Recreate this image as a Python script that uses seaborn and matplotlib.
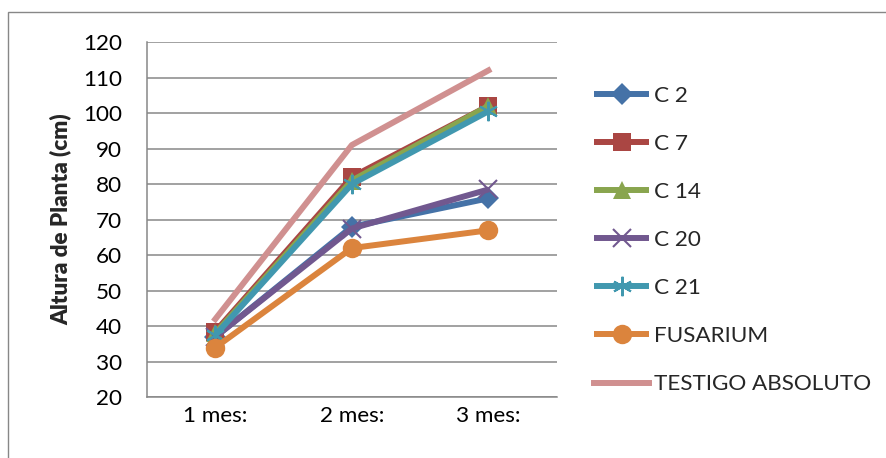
import matplotlib
matplotlib.use("Agg")
import matplotlib.pyplot as plt
import matplotlib.patches as patches
import numpy as np
import pandas as pd
import seaborn as sns

# Data, ..............................................................
months = ["1 mes:", "2 mes:", "3 mes:"]
c2 = [37.0, 68.0, 76.0]
c7 = [38.5, 82.0, 102.0]
c14 = [38.0, 81.0, 102.0]
c20 = [37.0, 67.5, 78.5]
c21 = [37.5, 80.0, 100.5]
fusarium = [34.0, 62.0, 67.0]
testigo = [42.0, 91.0, 112.0]

series_names = ["C 2", "C 7", "C 14", "C 20", "C 21", "FUSARIUM", "TESTIGO ABSOLUTO"]
series_values = [c2, c7, c14, c20, c21, fusarium, testigo]

# styles, (Excel 2007 like palette)
colors = ["#4572A7", "#AA4643", "#89A54E", "#71588F", "#4198AF", "#DB843D", "#D09090"]
markers = ["D", "s", "^", "x", (6, 2, 0), "o", None]
msizes = [11, 13, 13, 13, 14, 14, 0]

FS = 16.2

sns.set_style("white")
plt.rcParams["font.family"] = ["Lato", "DejaVu Sans"]
plt.rcParams["font.size"] = FS

# Figure, ............................................................
fig = plt.figure(figsize=(8.87, 4.58), dpi=100, facecolor="white")
ax = fig.add_axes([147 / 887, 1 - 397.3 / 458, (556.7 - 147) / 887, (397.3 - 42) / 458])

handles = []
for name, vals, col, mk, ms in zip(series_names, series_values, colors, markers, msizes):
    df = pd.DataFrame({"mes": months, "altura": vals})
    sns.lineplot(
        data=df, x="mes", y="altura", ax=ax,
        color=col, linewidth=4.3, sort=False,
        marker=mk, markersize=ms, legend=False,
    )
    line = ax.get_lines()[-1]
    line.set_markeredgecolor(col)
    line.set_markerfacecolor(col)
    line.set_markeredgewidth(1.5 if mk in ("x", (6, 2, 0)) else 0)
    line.set_solid_capstyle("projecting" if mk is None else "butt")
    line.set_label(name)
    handles.append(line)

# Axes aesthetics, ...................................................
ax.set_ylim(20, 120)
ax.set_yticks(np.arange(20, 121, 10))
ax.set_xlim(-0.5, 2.5)
ax.grid(axis="y", color="#878787", linewidth=1.1)
ax.grid(axis="x", visible=False)
ax.set_axisbelow(True)
for s in ["top", "right"]:
    ax.spines[s].set_visible(False)
for s in ["left", "bottom"]:
    ax.spines[s].set_color("#878787")
    ax.spines[s].set_linewidth(1.1)
ax.tick_params(axis="y", length=0, pad=18, labelsize=FS, colors="black")
ax.tick_params(axis="x", length=0, pad=6, labelsize=FS, colors="black")
ax.set_xlabel("")
ax.set_ylabel("Altura de Planta (cm)", fontsize=FS, fontweight="heavy", labelpad=8)

# legend, ...........................................................
fig.legend(
    handles=handles, labels=series_names,
    loc="center left", bbox_to_anchor=(594 / 887, 1 - 240 / 458),
    frameon=False, borderpad=0, borderaxespad=0,
    handlelength=2.45, handletextpad=0.22, labelspacing=1.25,
    fontsize=FS,
)

# outer chart border,
fig.patches.append(patches.Rectangle(
    (8 / 887, -0.05), 1.2, 1 - 12 / 458 + 0.05,
    transform=fig.transFigure, fill=False, edgecolor="#878787", linewidth=1.0,
))

fig.savefig("out.png", dpi=100, facecolor="white")
